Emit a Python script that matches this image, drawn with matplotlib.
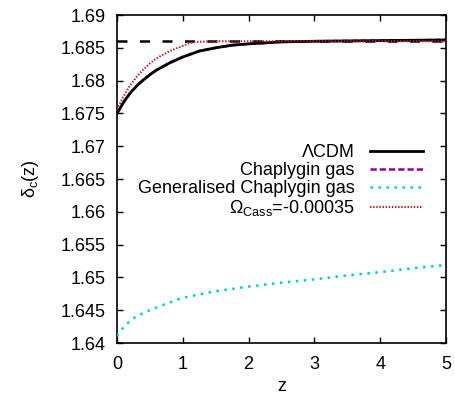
import numpy as np
import matplotlib
matplotlib.use('Agg')
import matplotlib.pyplot as plt
from matplotlib.ticker import FormatStrFormatter

plt.rcParams['font.family'] = ['Liberation Sans', 'DejaVu Sans']
plt.rcParams['mathtext.fontset'] = 'custom'
plt.rcParams['mathtext.rm'] = 'Liberation Sans'
plt.rcParams['mathtext.it'] = 'Liberation Sans'
plt.rcParams['font.size'] = 13

# delta_c(z) for each model
z_lcdm = [0, 0.1, 0.2, 0.3, 0.4, 0.5, 0.6, 0.8, 1.0, 1.25, 1.5, 1.75, 2.0, 2.5, 3.0, 4.0, 5.0]
d_lcdm = [1.6750, 1.6767, 1.6781, 1.6792, 1.6801, 1.6809, 1.6816, 1.6827, 1.6836,
          1.6845, 1.6850, 1.6854, 1.6856, 1.6859, 1.6860, 1.6861, 1.6862]

# chaplygin gas coincides with LCDM
z_cg = z_lcdm
d_cg = d_lcdm

z_gcg = [0, 0.05, 0.1, 0.2, 0.3, 0.5, 0.75, 1.0, 1.5, 2.0, 2.5, 3.0, 3.5, 4.0, 4.5, 5.0]
d_gcg = [1.6411, 1.6418, 1.6424, 1.6434, 1.6441, 1.6450, 1.6460, 1.6469, 1.6479,
         1.6486, 1.6492, 1.6497, 1.6503, 1.6508, 1.6514, 1.6519]

z_cass = [0, 0.1, 0.2, 0.3, 0.4, 0.5, 0.6, 0.8, 1.0, 1.1, 1.2, 1.5, 2.0, 3.0, 4.0, 5.0]
d_cass = [1.6756, 1.6776, 1.6793, 1.6806, 1.6817, 1.6826, 1.6834, 1.6845, 1.6853,
          1.6857, 1.6859, 1.6860, 1.6860, 1.6860, 1.6860, 1.6860]

# Einstein-de Sitter reference value
d_eds = 1.686
z_range = [0, 5]

fig = plt.figure(figsize=(4.55, 3.97), dpi=100)
ax = fig.add_axes([0.2571, 0.136, 0.7231, 0.8262])

ax.plot(z_range, [d_eds, d_eds], color='black', lw=1.8, ls=(0, (4, 5)), zorder=1)
ax.plot(z_cg, d_cg, color='#940094', lw=1.8, ls=(0, (2.5, 1.2)), zorder=2,
        label='Chaplygin gas')
ax.plot(z_lcdm, d_lcdm, color='black', lw=2.0, zorder=3, label='ΛCDM')
ax.plot(z_gcg, d_gcg, color='#00cccc', lw=1.8, ls=(0, (1, 2.2)), zorder=3,
        label='Generalised Chaplygin gas')
ax.plot(z_cass, d_cass, color='#b22222', lw=1.5, ls=(0, (0.7, 0.8)), zorder=4,
        label=r'$\Omega_{\rm Cass}$=-0.00035')

h, l = ax.get_legend_handles_labels()
order = [1, 0, 2, 3]
ax.legend([h[i] for i in order], [l[i] for i in order], loc='upper right',
          bbox_to_anchor=(0.93, 0.607), frameon=False, markerfirst=False,
          handlelength=2.95, handletextpad=0.83, labelspacing=0.06,
          borderpad=0, borderaxespad=0, fontsize=13)

ax.set_xlim(0, 5)
ax.set_ylim(1.64, 1.69)
ax.set_xticks(np.arange(0, 6, 1))
ax.set_yticks(np.arange(1.64, 1.6901, 0.005))
ax.yaxis.set_major_formatter(FormatStrFormatter('%g'))
ax.tick_params(direction='in', top=True, right=True, length=4.5, width=1,
               pad=8, labelsize=13)
ax.tick_params(axis='x', pad=9)
for s in ax.spines.values():
    s.set_linewidth(1.2)

ax.set_xlabel('z', fontsize=13, labelpad=4)
ax.set_ylabel(r'δ$_{\rm c}$(z)', fontsize=13, labelpad=14)

fig.savefig('out.png', dpi=100)
